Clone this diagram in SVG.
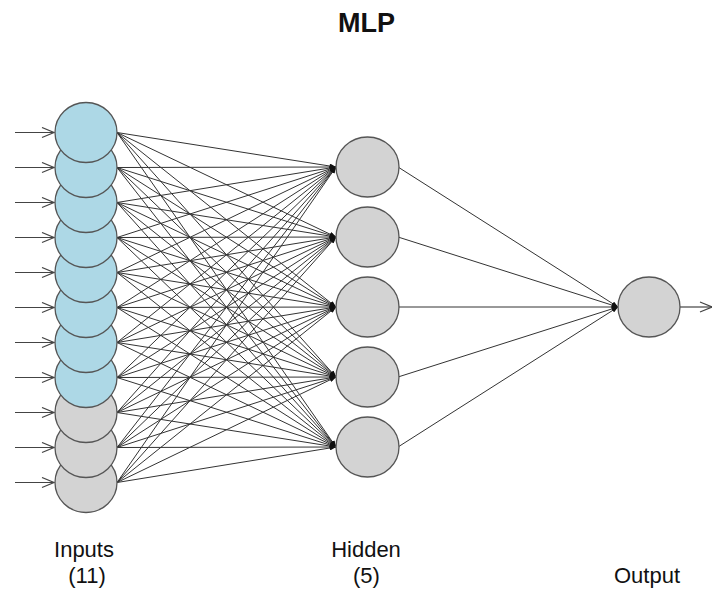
<svg xmlns="http://www.w3.org/2000/svg" width="712" height="592" viewBox="0 0 712 592">
<defs>
<marker id="ah" viewBox="0 0 10 8" refX="10" refY="4" markerUnits="userSpaceOnUse" markerWidth="7" markerHeight="5" orient="auto">
<path d="M0,0 L10,4 L0,8 Z" fill="#111"/>
</marker>
<marker id="ain" viewBox="0 0 14 12" refX="13" refY="6" markerUnits="userSpaceOnUse" markerWidth="14" markerHeight="12" orient="auto">
<path d="M1,1 L13,6 L1,11" fill="none" stroke="#444" stroke-width="1.2"/>
</marker>
</defs>
<style>
.t{font-family:"Liberation Sans",Arial,sans-serif;fill:#111;text-anchor:middle}
.e line{stroke:#333;stroke-width:1;marker-end:url(#ah)}
.a line{stroke:#444;stroke-width:1.2;marker-end:url(#ain)}
.n{stroke:#555;stroke-width:1.3}
.b{fill:#ADD8E6}
.g{fill:#D3D3D3}
</style>
<rect width="712" height="592" fill="#fff"/>
<text class="t" x="366.5" y="32" font-size="27" font-weight="bold">MLP</text>
<g id="connectors">
<g class="a">
<line x1="15" y1="132.5" x2="54" y2="132.5"/><line x1="15" y1="167.5" x2="54" y2="167.5"/><line x1="15" y1="202.5" x2="54" y2="202.5"/><line x1="15" y1="237.5" x2="54" y2="237.5"/><line x1="15" y1="272.5" x2="54" y2="272.5"/><line x1="15" y1="307.5" x2="54" y2="307.5"/><line x1="15" y1="342.5" x2="54" y2="342.5"/><line x1="15" y1="377.5" x2="54" y2="377.5"/><line x1="15" y1="412.5" x2="54" y2="412.5"/><line x1="15" y1="447.5" x2="54" y2="447.5"/><line x1="15" y1="482.5" x2="54" y2="482.5"/>
<line x1="680" y1="307" x2="712" y2="307"/>
</g>
<g class="e">
<line x1="117" y1="132.5" x2="336" y2="167"/><line x1="117" y1="132.5" x2="336" y2="237"/><line x1="117" y1="132.5" x2="336" y2="307"/><line x1="117" y1="132.5" x2="336" y2="377"/><line x1="117" y1="132.5" x2="336" y2="447"/>
<line x1="117" y1="167.5" x2="336" y2="167"/><line x1="117" y1="167.5" x2="336" y2="237"/><line x1="117" y1="167.5" x2="336" y2="307"/><line x1="117" y1="167.5" x2="336" y2="377"/><line x1="117" y1="167.5" x2="336" y2="447"/>
<line x1="117" y1="202.5" x2="336" y2="167"/><line x1="117" y1="202.5" x2="336" y2="237"/><line x1="117" y1="202.5" x2="336" y2="307"/><line x1="117" y1="202.5" x2="336" y2="377"/><line x1="117" y1="202.5" x2="336" y2="447"/>
<line x1="117" y1="237.5" x2="336" y2="167"/><line x1="117" y1="237.5" x2="336" y2="237"/><line x1="117" y1="237.5" x2="336" y2="307"/><line x1="117" y1="237.5" x2="336" y2="377"/><line x1="117" y1="237.5" x2="336" y2="447"/>
<line x1="117" y1="272.5" x2="336" y2="167"/><line x1="117" y1="272.5" x2="336" y2="237"/><line x1="117" y1="272.5" x2="336" y2="307"/><line x1="117" y1="272.5" x2="336" y2="377"/><line x1="117" y1="272.5" x2="336" y2="447"/>
<line x1="117" y1="307.5" x2="336" y2="167"/><line x1="117" y1="307.5" x2="336" y2="237"/><line x1="117" y1="307.5" x2="336" y2="307"/><line x1="117" y1="307.5" x2="336" y2="377"/><line x1="117" y1="307.5" x2="336" y2="447"/>
<line x1="117" y1="342.5" x2="336" y2="167"/><line x1="117" y1="342.5" x2="336" y2="237"/><line x1="117" y1="342.5" x2="336" y2="307"/><line x1="117" y1="342.5" x2="336" y2="377"/><line x1="117" y1="342.5" x2="336" y2="447"/>
<line x1="117" y1="377.5" x2="336" y2="167"/><line x1="117" y1="377.5" x2="336" y2="237"/><line x1="117" y1="377.5" x2="336" y2="307"/><line x1="117" y1="377.5" x2="336" y2="377"/><line x1="117" y1="377.5" x2="336" y2="447"/>
<line x1="117" y1="412.5" x2="336" y2="167"/><line x1="117" y1="412.5" x2="336" y2="237"/><line x1="117" y1="412.5" x2="336" y2="307"/><line x1="117" y1="412.5" x2="336" y2="377"/><line x1="117" y1="412.5" x2="336" y2="447"/>
<line x1="117" y1="447.5" x2="336" y2="167"/><line x1="117" y1="447.5" x2="336" y2="237"/><line x1="117" y1="447.5" x2="336" y2="307"/><line x1="117" y1="447.5" x2="336" y2="377"/><line x1="117" y1="447.5" x2="336" y2="447"/>
<line x1="117" y1="482.5" x2="336" y2="167"/><line x1="117" y1="482.5" x2="336" y2="237"/><line x1="117" y1="482.5" x2="336" y2="307"/><line x1="117" y1="482.5" x2="336" y2="377"/><line x1="117" y1="482.5" x2="336" y2="447"/>
<line x1="398" y1="167" x2="618" y2="307"/><line x1="398" y1="237" x2="618" y2="307"/><line x1="398" y1="307" x2="618" y2="307"/><line x1="398" y1="377" x2="618" y2="307"/><line x1="398" y1="447" x2="618" y2="307"/>
</g>
</g>
<g id="input11"><ellipse class="n g" cx="86" cy="482.5" rx="31" ry="30"/></g>
<g id="input10"><ellipse class="n g" cx="86" cy="447.5" rx="31" ry="30"/></g>
<g id="input9"><ellipse class="n g" cx="86" cy="412.5" rx="31" ry="30"/></g>
<g id="input8"><ellipse class="n b" cx="86" cy="377.5" rx="31" ry="30"/></g>
<g id="input7"><ellipse class="n b" cx="86" cy="342.5" rx="31" ry="30"/></g>
<g id="input6"><ellipse class="n b" cx="86" cy="307.5" rx="31" ry="30"/></g>
<g id="input5"><ellipse class="n b" cx="86" cy="272.5" rx="31" ry="30"/></g>
<g id="input4"><ellipse class="n b" cx="86" cy="237.5" rx="31" ry="30"/></g>
<g id="input3"><ellipse class="n b" cx="86" cy="202.5" rx="31" ry="30"/></g>
<g id="input2"><ellipse class="n b" cx="86" cy="167.5" rx="31" ry="30"/></g>
<g id="input1"><ellipse class="n b" cx="86" cy="132.5" rx="31" ry="30"/></g>
<g id="hidden1"><ellipse class="n g" cx="367.5" cy="167" rx="31.5" ry="30"/></g>
<g id="hidden2"><ellipse class="n g" cx="367.5" cy="237" rx="31.5" ry="30"/></g>
<g id="hidden3"><ellipse class="n g" cx="367.5" cy="307" rx="31.5" ry="30"/></g>
<g id="hidden4"><ellipse class="n g" cx="367.5" cy="377" rx="31.5" ry="30"/></g>
<g id="hidden5"><ellipse class="n g" cx="367.5" cy="447" rx="31.5" ry="30"/></g>
<g id="output"><ellipse class="n g" cx="649" cy="307" rx="31" ry="30"/></g>
<g id="labels">
<text class="t" x="84" y="557" font-size="22">Inputs</text>
<text class="t" x="87" y="583" font-size="22">(11)</text>
<text class="t" x="366" y="557" font-size="22">Hidden</text>
<text class="t" x="366.5" y="583" font-size="22">(5)</text>
<text class="t" x="647" y="582.5" font-size="22">Output</text>
</g>
</svg>
